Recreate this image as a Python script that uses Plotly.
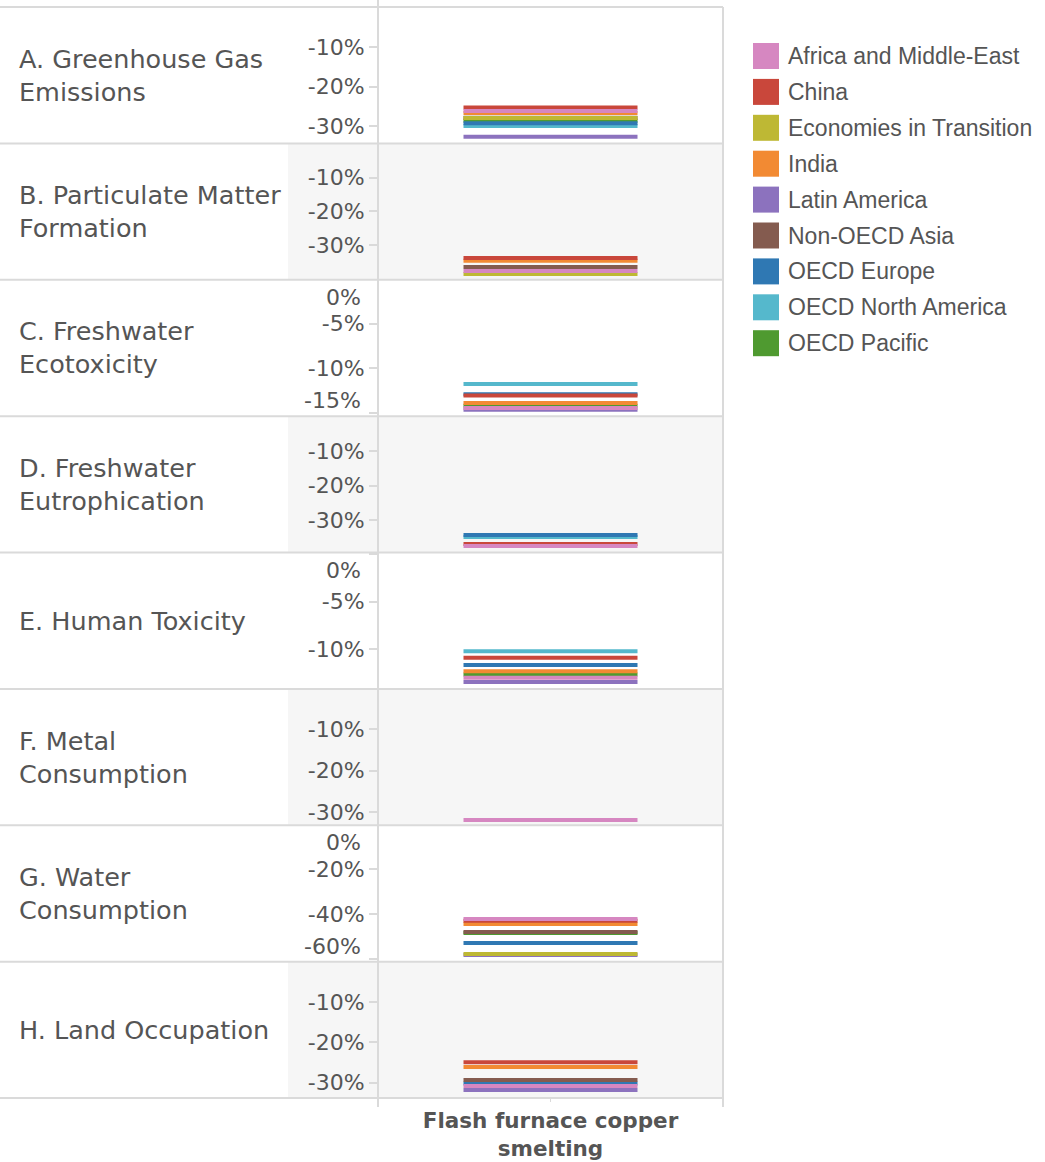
import plotly.graph_objects as go
from plotly.subplots import make_subplots

category = "Flash furnace copper smelting"
regions = ["Africa and Middle-East", "China", "Economies in Transition", "India",
           "Latin America", "Non-OECD Asia", "OECD Europe", "OECD North America", "OECD Pacific"]
colors = ["#D687C1", "#C9473B", "#BEB834", "#F28A33", "#8C72BE",
          "#845B4F", "#2F78B3", "#55B8CC", "#4F9A30"]

panels = ["A. Greenhouse Gas<br>Emissions", "B. Particulate Matter<br>Formation",
          "C. Freshwater<br>Ecotoxicity", "D. Freshwater<br>Eutrophication",
          "E. Human Toxicity", "F. Metal<br>Consumption",
          "G. Water<br>Consumption", "H. Land Occupation"]

# % change per region (same order as regions), None = no mark
ghg = [-26.2, -25.3, -28.0, -26.7, -32.7, -27.9, -29.3, -30.0, -28.65]
pm = [-37.6, -33.8, -38.5, -34.6, None, -36.4, None, None, None]
fw_ecotox = [-14.45, -13.05, None, -13.9, -14.65, None, -12.9, -11.75, -14.2]
fw_eutro = [-37.4, -36.85, None, None, None, None, -34.25, -34.8, None]
human_tox = [-13.0, -10.9, None, -12.3, -13.45, None, -11.65, -10.2, -12.65]
metal = [-31.85, None, None, None, None, None, None, None, None]
water = [-42.2, -43.0, -57.9, -44.5, -58.35, -48.05, -53.0, None, -48.5]
land = [-30.8, -24.95, None, -26.1, -31.8, -29.35, -30.2, None, None]
series = [ghg, pm, fw_ecotox, fw_eutro, human_tox, metal, water, land]

y_ranges = [[-34.4, 0.13], [-40.2, 0.15], [-15.36, -0.07], [-39.3, 0.07],
            [-14.16, 0.17], [-33.12, -0.27], [-61.3, -0.29], [-33.8, 0.01]]
y_ticks = [[-10, -20, -30], [-10, -20, -30], [0, -5, -10, -15], [-10, -20, -30],
           [0, -5, -10], [-10, -20, -30], [0, -20, -40, -60], [-10, -20, -30]]

TXT = "#555555"
LINE = "#dadada"
W, H = 1045, 1162
L, R, T, B = 378, 322, 7, 64
pw = W - L - R
ph = H - T - B
row_h = ph / 8


def px(x):
    return (x - L) / pw


fig = make_subplots(rows=8, cols=1, vertical_spacing=0, shared_xaxes=True)

# line-ew symbol is drawn 1.4x the marker size -> 174 px wide marks
for p, vals in enumerate(series):
    for i in reversed(range(len(regions))):
        if vals[i] is None:
            continue
        fig.add_trace(go.Scatter(
            x=[category], y=[vals[i]], mode="markers", name=regions[i],
            marker=dict(symbol="line-ew", size=174 / 1.4, line=dict(width=4, color=colors[i])),
            showlegend=False, hovertemplate="%{y:.1f}%<extra>" + regions[i] + "</extra>"),
            row=p + 1, col=1)

shapes = []
annotations = []
for p in range(8):
    n = "" if p == 0 else str(p + 1)
    lo, hi = y_ranges[p]
    texts = []
    for v in y_ticks[p]:
        d_top = (hi - v) / (hi - lo) * row_h
        d_bot = (v - lo) / (hi - lo) * row_h
        if d_top < 12 or d_bot < 12:
            texts.append("")
            top = d_top < 12
            annotations.append(dict(
                text=f"{v}%", xref="paper", x=px(363), xanchor="right",
                yref=f"y{n} domain", y=1 if top else 0,
                yanchor="top" if top else "bottom", yshift=-3 if top else 1,
                showarrow=False, font=dict(family="DejaVu Sans", size=22, color=TXT)))
        else:
            texts.append(f"{v}%")
    fig.update_yaxes(range=[lo, hi], tickmode="array", tickvals=y_ticks[p], ticktext=texts,
                     ticks="outside", ticklen=8, tickwidth=1.5, tickcolor=LINE,
                     showgrid=False, zeroline=False, showline=False, automargin=False,
                     tickfont=dict(family="DejaVu Sans", size=22, color=TXT),
                     row=p + 1, col=1)
    annotations.append(dict(
        text=panels[p], xref="paper", x=px(17), xanchor="left", align="left",
        yref=f"y{n} domain", y=0.5, yanchor="middle", showarrow=False,
        font=dict(family="DejaVu Sans", size=25.5, color=TXT)))
    y0 = 1 - (p + 1) / 8
    y1 = 1 - p / 8
    if p % 2 == 1:
        shapes.append(dict(type="rect", xref="paper", yref="paper", x0=px(288), x1=1,
                           y0=y0, y1=y1, fillcolor="#f6f6f6", line=dict(width=0), layer="below"))

for k in range(9):
    shapes.append(dict(type="line", xref="paper", yref="paper", x0=px(0), x1=1,
                       y0=k / 8, y1=k / 8, line=dict(color=LINE, width=2)))
shapes.append(dict(type="line", xref="paper", yref="paper", x0=0, x1=0,
                   y0=-9 / ph, y1=1 + T / ph, line=dict(color=LINE, width=2)))
shapes.append(dict(type="line", xref="paper", yref="paper", x0=1, x1=1,
                   y0=-9 / ph, y1=1, line=dict(color=LINE, width=2)))

# legend
for i, (name, c) in enumerate(zip(regions, colors)):
    cy = 56 + 35.9 * i
    yc = 1 - (cy - T) / ph
    shapes.append(dict(type="rect", xref="paper", yref="paper", x0=px(753), x1=px(779),
                       y0=yc - 13 / ph, y1=yc + 13 / ph, fillcolor=c, line=dict(width=0)))
    annotations.append(dict(text=name, xref="paper", x=px(786), xanchor="left",
                            yref="paper", y=yc, yanchor="middle", showarrow=False,
                            font=dict(family="Liberation Sans", size=23, color=TXT)))

fig.update_xaxes(range=[-1, 1], showgrid=False, zeroline=False, showline=False,
                 showticklabels=False, ticks="", automargin=False)
fig.update_xaxes(showticklabels=True, tickmode="array", tickvals=[category],
                 ticktext=["<b>Flash furnace copper</b><br><b>smelting</b>"],
                 ticks="outside", ticklen=3, tickcolor=LINE, ticklabelstandoff=0,
                 tickfont=dict(family="DejaVu Sans", size=21.5, color=TXT), row=8, col=1)

fig.update_layout(width=W, height=H, autosize=False,
                  margin=dict(l=L, r=R, t=T, b=B),
                  paper_bgcolor="white", plot_bgcolor="rgba(0,0,0,0)",
                  shapes=shapes, annotations=annotations, showlegend=False)

fig.write_html("out.html", config={"displayModeBar": False},
               post_script="document.body.style.margin = '0';")
